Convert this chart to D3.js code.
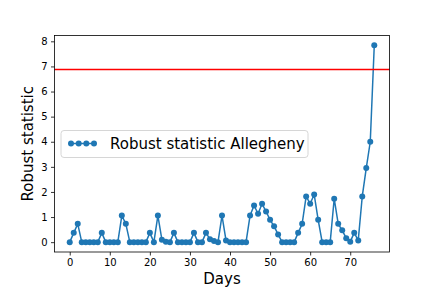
<!DOCTYPE html>
<html>
<head>
<meta charset="utf-8">
<script src="https://cdn.jsdelivr.net/npm/d3@7/dist/d3.min.js"></script>
<style>
html,body{margin:0;padding:0;background:#fff;}
svg{display:block;font-family:"DejaVu Sans",sans-serif;}
</style>
</head>
<body>
<svg id="chart" width="432" height="288"></svg>
<script>
const days = d3.range(0, 77);
const robustValues = [
  0, 0.37, 0.73, 0, 0, 0, 0, 0, 0.37, 0,
  0, 0, 0, 1.06, 0.73, 0, 0, 0, 0, 0,
  0.37, 0, 1.06, 0.1, 0.02, 0, 0.37, 0, 0, 0,
  0, 0.37, 0, 0, 0.37, 0.12, 0.05, 0, 1.06, 0.07,
  0, 0, 0, 0, 0, 1.06, 1.46, 1.13, 1.53, 1.22,
  0.89, 0.63, 0.31, 0, 0, 0, 0, 0.37, 0.73, 1.82,
  1.53, 1.9, 0.89, 0, 0, 0, 1.73, 0.73, 0.47, 0.16,
  0.02, 0.37, 0.07, 1.82, 2.95, 4.0, 7.84
];
const threshold = 6.88;
const xTicks = [0, 10, 20, 30, 40, 50, 60, 70];
const yTicks = [0, 1, 2, 3, 4, 5, 6, 7, 8];
const seriesLabel = "Robust statistic Allegheny";
const xLabel = "Days";
const yLabel = "Robust statistic";

const mL = 54.5, mR = 389.5, mT = 35.5, mB = 252;
const svg = d3.select("#chart");
const blue = "#1f77b4";

const xMax = d3.max(days), yMax = d3.max(robustValues);
const x = d3.scaleLinear().domain([-0.05 * xMax, xMax * 1.05]).range([mL, mR]);
const y = d3.scaleLinear().domain([-0.05 * yMax, yMax * 1.05]).range([mB, mT]);

// axes
const xAxis = svg.append("g").attr("transform", `translate(0,${mB})`)
  .call(d3.axisBottom(x).tickValues(xTicks).tickSize(3.5).tickPadding(3.5).tickFormat(d3.format("d")));
const yAxis = svg.append("g").attr("transform", `translate(${mL},0)`)
  .call(d3.axisLeft(y).tickValues(yTicks).tickSize(3.5).tickPadding(3.5).tickFormat(d3.format("d")));
[xAxis, yAxis].forEach(g => {
  g.select(".domain").remove();
  g.selectAll(".tick line").attr("stroke", "#000").attr("stroke-width", 0.8);
  g.selectAll(".tick text").attr("fill", "#000").style("font-size", "10px").style("font-family", "DejaVu Sans");
});

// clip
svg.append("clipPath").attr("id", "clip").append("rect")
  .attr("x", mL).attr("y", mT).attr("width", mR - mL).attr("height", mB - mT);

const data = days.map((d, i) => ({ d, v: robustValues[i] }));
const plot = svg.append("g").attr("clip-path", "url(#clip)");

plot.append("path").datum(data)
  .attr("fill", "none").attr("stroke", blue).attr("stroke-width", 1.5)
  .attr("stroke-linejoin", "round")
  .attr("d", d3.line().x(p => x(p.d)).y(p => y(p.v)));
plot.selectAll("circle.pt").data(data).enter().append("circle")
  .attr("class", "pt")
  .attr("cx", p => x(p.d)).attr("cy", p => y(p.v)).attr("r", 3).attr("fill", blue);

// threshold line
svg.append("line")
  .attr("x1", mL).attr("x2", mR)
  .attr("y1", y(threshold)).attr("y2", y(threshold))
  .attr("stroke", "#ff0000").attr("stroke-width", 1.5);

// frame
svg.append("rect").attr("x", mL).attr("y", mT).attr("width", mR - mL).attr("height", mB - mT)
  .attr("fill", "none").attr("stroke", "#000").attr("stroke-width", 0.8);

// axis labels
svg.append("text").attr("x", (mL + mR) / 2).attr("y", 284)
  .attr("text-anchor", "middle").style("font-size", "15px").text(xLabel);
svg.append("text").attr("transform", `translate(33,${(mT + mB) / 2}) rotate(-90)`)
  .attr("text-anchor", "middle").style("font-size", "15px").text(yLabel);

// legend
const lg = svg.append("g");
lg.append("rect").attr("x", 61).attr("y", 130.5).attr("width", 247).attr("height", 27)
  .attr("rx", 3).attr("fill", "#fff").attr("fill-opacity", 0.8)
  .attr("stroke", "#cccccc").attr("stroke-width", 0.8);
const hx = [71, 78.7, 86.3, 94];
lg.append("line").attr("x1", 69).attr("x2", 96).attr("y1", 143.5).attr("y2", 143.5)
  .attr("stroke", blue).attr("stroke-width", 1.5);
lg.selectAll("circle").data(hx).enter().append("circle")
  .attr("cx", d => d).attr("cy", 143.5).attr("r", 3).attr("fill", blue);
lg.append("text").attr("x", 110).attr("y", 148.8).style("font-size", "15px").text(seriesLabel);
</script>
</body>
</html>
